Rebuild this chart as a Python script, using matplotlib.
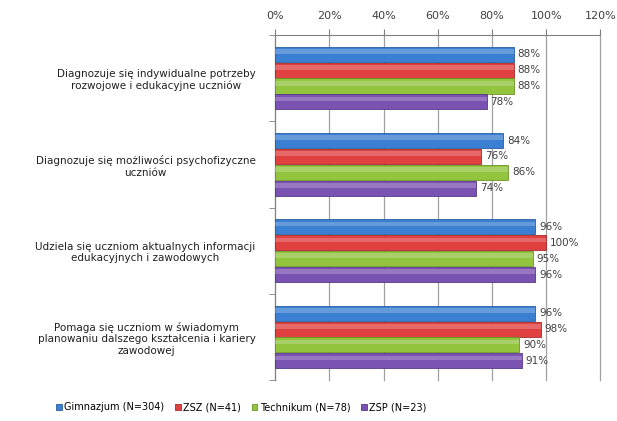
import numpy as np
from matplotlib import pyplot as plt

# chart data
categories = ['Diagnozuje się indywidualne potrzeby\nrozwojowe i edukacyjne uczniów',
              'Diagnozuje się możliwości psychofizyczne\nuczniów',
              'Udziela się uczniom aktualnych informacji\nedukacyjnych i zawodowych',
              'Pomaga się uczniom w świadomym\nplanowaniu dalszego kształcenia i kariery\nzawodowej']
series_names = ['Gimnazjum (N=304)', 'ZSZ (N=41)', 'Technikum (N=78)', 'ZSP (N=23)']
gimnazjum = [88, 84, 96, 96]
zsz = [88, 76, 100, 98]
technikum = [88, 86, 95, 90]
zsp = [78, 74, 96, 91]
x_ticks = [0, 20, 40, 60, 80, 100, 120]

colors = ['#3b7fd2', '#e0403f', '#92c43e', '#7a52b2']
edges = ['#2a5f9e', '#a82b2b', '#6c9428', '#563885']

fig = plt.figure(figsize=(6.17, 4.21), dpi=100)
ax = fig.add_axes([0.446, 0.097, 0.527, 0.82])

values = [gimnazjum, zsz, technikum, zsp]
n_cat = len(categories)
bar_h = 0.184
centers = np.arange(n_cat)[::-1] + 0.5
for i, (vals, name) in enumerate(zip(values, series_names)):
    y = centers + (1.5 - i) * bar_h
    ax.barh(y, vals, height=bar_h * 0.95, color=colors[i], edgecolor=edges[i],
            linewidth=0.6, label=name, zorder=3)
    # lighter stripe to fake the glossy look
    ax.barh(y + bar_h * 0.18, vals, height=bar_h * 0.3, color='white', alpha=0.22,
            linewidth=0, zorder=4)
    for yy, v in zip(y, vals):
        ax.text(v + 1.5, yy, f'{v}%', va='center', ha='left', fontsize=7.5,
                color='#404040', zorder=5)

ax.set_xlim(0, 120)
ax.set_ylim(0, n_cat)
ax.xaxis.tick_top()
ax.set_xticks(x_ticks)
ax.set_xticklabels([f'{t}%' for t in x_ticks], fontsize=8, color='#404040')
ax.tick_params(axis='x', length=4, color='#808080', pad=6)
ax.grid(axis='x', color='#a0a0a0', linewidth=0.9, zorder=0)
for gl in ax.get_xgridlines():
    gl.set_clip_on(False)

ax.set_yticks(centers)
ax.set_yticklabels(categories, fontsize=7.5, multialignment='center', color='#202020')
ax.tick_params(axis='y', length=0, pad=14)
ax.set_yticks(np.arange(n_cat + 1), minor=True)
ax.tick_params(axis='y', which='minor', length=4, color='#808080')

for side in ['right', 'bottom']:
    ax.spines[side].set_visible(False)
ax.spines['left'].set_color('#808080')
ax.spines['top'].set_color('#808080')

handles, labels = ax.get_legend_handles_labels()
fig.legend(handles, labels, loc='center', bbox_to_anchor=(0.391, 0.033), ncol=4,
           frameon=False, fontsize=7, handlelength=0.6, handleheight=0.6,
           handletextpad=0.25, columnspacing=1.1)

fig.savefig('out.png', dpi=100)
